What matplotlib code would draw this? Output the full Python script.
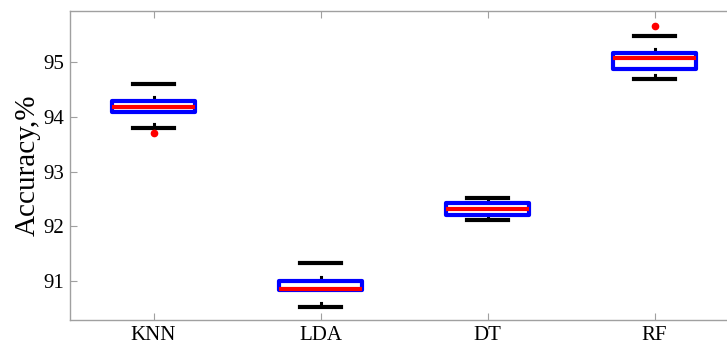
import numpy as np
import matplotlib
matplotlib.use('Agg')
import matplotlib.pyplot as plt

plt.rcParams['font.family'] = ['Liberation Serif', 'DejaVu Serif']
plt.rcParams['lines.scale_dashes'] = False

labels = ['KNN', 'LDA', 'DT', 'RF']
q1 = [94.09, 90.83, 92.20, 94.88]
med = [94.18, 90.85, 92.31, 95.08]
q3 = [94.29, 91.00, 92.42, 95.17]
lo = [93.80, 90.53, 92.11, 94.68]
hi = [94.59, 91.33, 92.51, 95.47]
outliers = [[93.70], [], [], [95.66]]

stats = []
for i in range(len(labels)):
    stats.append({'label': labels[i], 'q1': q1[i], 'med': med[i], 'q3': q3[i],
                  'whislo': lo[i], 'whishi': hi[i], 'fliers': outliers[i]})

fig = plt.figure(figsize=(7.27, 3.47), dpi=100)
ax = fig.add_axes([70/727, 27/347, 668/727, 309/347])

bp = ax.bxp(stats, widths=0.5, capwidths=0.245, patch_artist=True,
            boxprops=dict(facecolor='white', edgecolor='#0000ff', linewidth=3,
                          joinstyle='round', zorder=3),
            medianprops=dict(color='#ff0000', linewidth=3, zorder=4),
            whiskerprops=dict(color='black', linewidth=2.2, linestyle=(0, (4, 9)), zorder=2),
            capprops=dict(color='black', linewidth=3, zorder=2),
            flierprops=dict(marker='o', markerfacecolor='#ff0000', markeredgecolor='#ff0000',
                            markersize=4.5, linestyle='none'))

# lower whiskers start their dash pattern at the cap
for w in bp['whiskers'][::2]:
    w.set_ydata(w.get_ydata()[::-1])

ax.set_xlim(0.5, 4.5)
ax.set_ylim(90.29, 95.93)
ax.set_yticks([91, 92, 93, 94, 95])
ax.set_ylabel('Accuracy,%', fontsize=21, labelpad=2)

for s in ax.spines.values():
    s.set_color('#a0a0a0')
    s.set_linewidth(1)
ax.tick_params(direction='in', length=5, color='#a0a0a0', labelsize=15,
               top=True, right=True, pad=4)

plt.savefig('out.png', dpi=100)
